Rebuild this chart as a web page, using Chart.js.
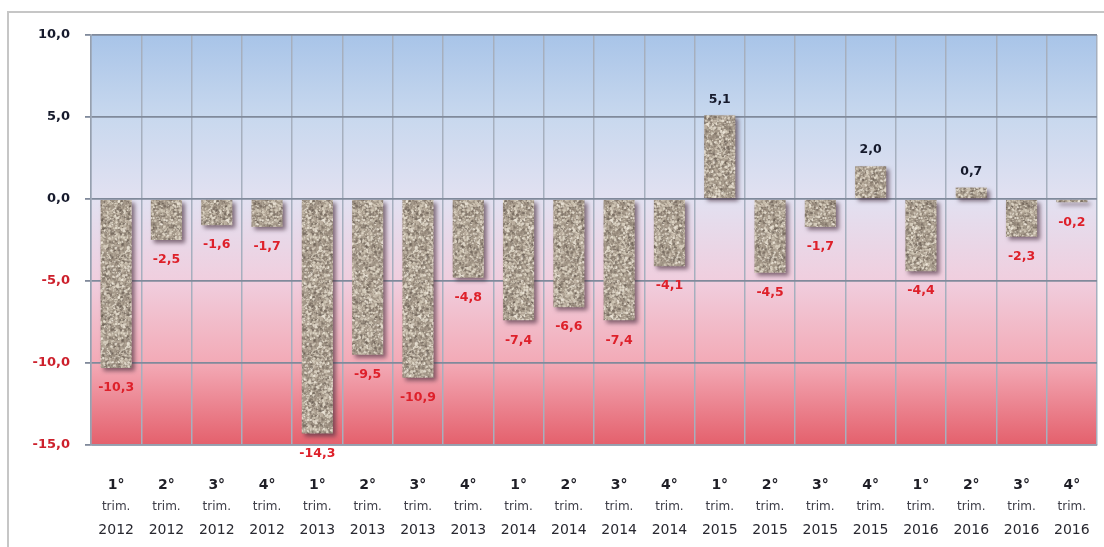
<!DOCTYPE html>
<html>
<head>
<meta charset="utf-8">
<script src="https://cdn.jsdelivr.net/npm/chart.js@4/dist/chart.umd.min.js"></script>
<style>
  html, body { margin: 0; padding: 0; background: #ffffff; overflow: hidden; }
  #frame { position: absolute; left: 7px; top: 11px; width: 1200px; height: 700px;
           border: 2px solid #c6c6c6; box-sizing: border-box; }
  #c { position: absolute; left: 0; top: 0; }
</style>
</head>
<body>
<div id="frame"></div>
<canvas id="c" width="1104" height="547"></canvas>
<script>
// Quarterly values (%), one bar per quarter 2012–2016
const quarters = ['1°','2°','3°','4°','1°','2°','3°','4°','1°','2°','3°','4°','1°','2°','3°','4°','1°','2°','3°','4°'];
const periodWord = 'trim.';
const years = ['2012','2012','2012','2012','2013','2013','2013','2013','2014','2014','2014','2014','2015','2015','2015','2015','2016','2016','2016','2016'];
const values = [-10.3, -2.5, -1.6, -1.7, -14.3, -9.5, -10.9, -4.8, -7.4, -6.6, -7.4, -4.1, 5.1, -4.5, -1.7, 2.0, -4.4, 0.7, -2.3, -0.2];
const yTicks = [10, 5, 0, -5, -10, -15];

const labels = quarters.map((q, i) => [q, periodWord, years[i]]);
const fmt = v => v.toFixed(1).replace('.', ',');

// Gravel-like fill for the bars (deterministic speckle pattern)
function gravelPattern() {
  const s = 96;
  const cv = document.createElement('canvas');
  cv.width = s; cv.height = s;
  const g = cv.getContext('2d');
  let seed = 424242;
  const rnd = () => { seed = (seed * 1103515245 + 12345) & 0x7fffffff; return seed / 0x7fffffff; };
  g.fillStyle = 'rgb(164,152,137)';
  g.fillRect(0, 0, s, s);
  const palette = ['rgba(226,217,202,0.85)', 'rgba(200,189,173,0.85)', 'rgba(122,110,98,0.7)',
                   'rgba(146,134,120,0.8)', 'rgba(184,172,156,0.85)', 'rgba(240,234,222,0.75)',
                   'rgba(212,202,186,0.85)', 'rgba(96,86,76,0.55)'];
  for (let k = 0; k < 4200; k++) {
    const x = rnd() * s, y = rnd() * s, r = 0.45 + rnd() * 0.95;
    g.fillStyle = palette[Math.floor(rnd() * palette.length)];
    for (const dx of [-s, 0, s]) for (const dy of [-s, 0, s]) {
      g.beginPath(); g.arc(x + dx, y + dy, r, 0, Math.PI * 2); g.fill();
    }
  }
  return g.createPattern(cv, 'repeat');
}

const ctx = document.getElementById('c').getContext('2d');

const plotBackground = {
  id: 'plotBackground',
  beforeDraw(chart) {
    const { ctx, chartArea: a } = chart;
    const gr = ctx.createLinearGradient(0, a.top, 0, a.bottom);
    gr.addColorStop(0.00, 'rgb(168,196,232)');
    gr.addColorStop(0.20, 'rgb(200,216,238)');
    gr.addColorStop(0.40, 'rgb(226,225,241)');
    gr.addColorStop(0.60, 'rgb(240,206,222)');
    gr.addColorStop(0.80, 'rgb(243,170,182)');
    gr.addColorStop(1.00, 'rgb(228,96,108)');
    ctx.save();
    ctx.fillStyle = gr;
    ctx.fillRect(a.left, a.top, a.right - a.left, a.bottom - a.top);
    ctx.restore();
  }
};

const barShadow = {
  id: 'barShadow',
  beforeDatasetsDraw(chart) {
    const c = chart.ctx;
    c.save();
    c.shadowColor = 'rgba(70,45,60,0.65)';
    c.shadowBlur = 4;
    c.shadowOffsetX = 3;
    c.shadowOffsetY = 3;
  },
  afterDatasetsDraw(chart) { chart.ctx.restore(); }
};

const valueLabels = {
  id: 'valueLabels',
  afterDraw(chart) {
    const c = chart.ctx;
    const meta = chart.getDatasetMeta(0);
    c.save();
    c.font = 'bold 12.5px "DejaVu Sans"';
    c.textAlign = 'center';
    c.textBaseline = 'middle';
    meta.data.forEach((bar, i) => {
      const v = values[i];
      if (v < 0) { c.fillStyle = 'rgb(222,32,42)'; c.fillText(fmt(v), bar.x, bar.y + 20); }
      else { c.fillStyle = 'rgb(22,26,44)'; c.fillText(fmt(v), bar.x, bar.y - 16); }
    });
    c.restore();
  }
};

const categoryLabels = {
  id: 'categoryLabels',
  afterDraw(chart) {
    const c = chart.ctx;
    const xs = chart.scales.x;
    c.save();
    c.textAlign = 'center';
    c.textBaseline = 'middle';
    labels.forEach((lines, i) => {
      const x = xs.getPixelForTick(i);
      c.fillStyle = 'rgb(30,30,38)';
      c.font = 'bold 14px "DejaVu Sans"';
      c.fillText(lines[0], x, 485);
      c.fillStyle = 'rgb(60,60,70)';
      c.font = '12px "DejaVu Sans"';
      c.fillText(lines[1], x, 507);
      c.fillStyle = 'rgb(40,40,48)';
      c.font = '14px "DejaVu Sans"';
      c.fillText(lines[2], x, 530);
    });
    c.restore();
  }
};

new Chart(ctx, {
  type: 'bar',
  data: {
    labels: labels,
    datasets: [{
      data: values,
      backgroundColor: gravelPattern(),
      borderWidth: 0,
      categoryPercentage: 1,
      barPercentage: 0.62
    }]
  },
  options: {
    responsive: false,
    animation: false,
    layout: { padding: { top: 35, right: 7, left: 0, bottom: 0 } },
    plugins: { legend: { display: false }, tooltip: { enabled: false } },
    scales: {
      x: {
        ticks: { display: false },
        grid: { color: 'rgb(166,175,190)', lineWidth: 1.5, drawTicks: false, offset: true },
        border: { color: 'rgb(150,160,175)', width: 1.5 },
        afterFit(scale) { scale.height = 102; }
      },
      y: {
        min: -15, max: 10,
        afterBuildTicks(scale) { scale.ticks = yTicks.map(v => ({ value: v })); },
        ticks: {
          padding: 15,
          font: { family: '"DejaVu Sans"', size: 13, weight: 'bold' },
          color: c => (c.tick && c.tick.value < 0) ? 'rgb(205,32,44)' : 'rgb(22,26,44)',
          callback: v => fmt(v)
        },
        grid: { color: 'rgb(128,138,155)', lineWidth: 1.8, tickLength: 6 },
        border: { color: 'rgb(150,160,175)', width: 1.5 },
        afterFit(scale) { scale.width = 91; }
      }
    }
  },
  plugins: [plotBackground, barShadow, valueLabels, categoryLabels]
});
</script>
</body>
</html>
